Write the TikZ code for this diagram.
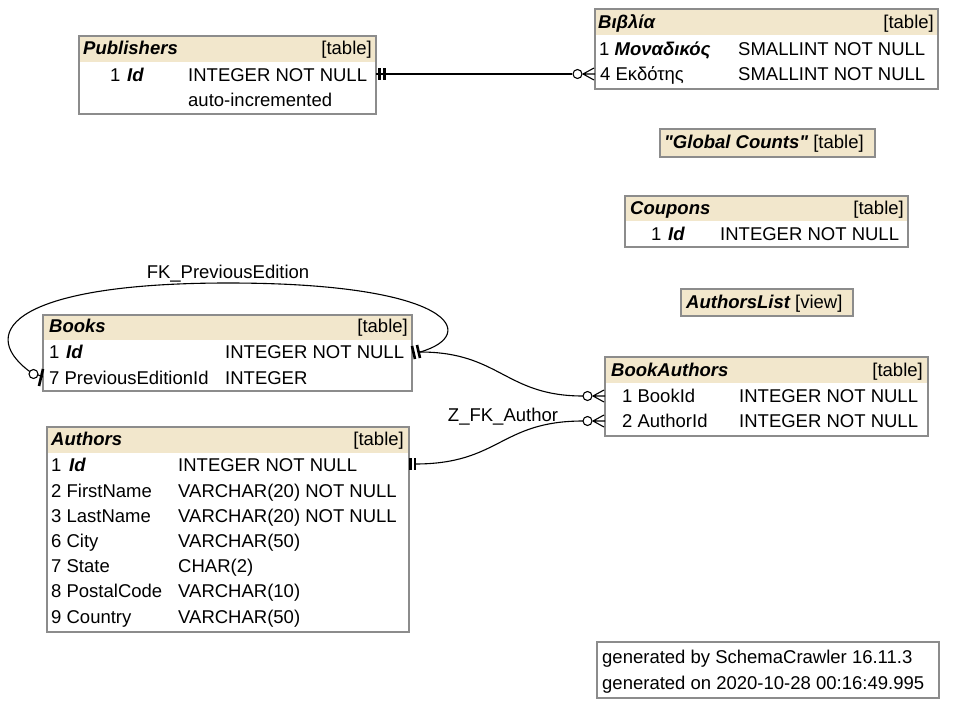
\documentclass[tikz,border=0pt]{standalone}
\usepackage{fontspec}
\setmainfont{Liberation Sans}
\newfontfamily\plainqf{Liberation Sans}
\newcommand\fsz{\fontsize{18.5}{22}\selectfont}
\newcommand\bi{\bfseries\itshape}
\definecolor{hdrcol}{RGB}{242,231,204}
\definecolor{bordcol}{RGB}{140,140,140}
\begin{document}
\begin{tikzpicture}[x=1pt,y=-1pt,
 tbl/.style={draw=bordcol,line width=1.3pt,anchor=north west,inner sep=0,outer sep=0},
 tx/.style={anchor=base west,inner sep=0,font=\fsz},
 txr/.style={anchor=base east,inner sep=0,font=\fsz},
 lbl/.style={anchor=base,inner sep=0,font=\fsz},
 conn/.style={line width=1.1pt,black},
 onebar/.style={line width=2.6pt,black},
 opt/.style={line width=1.1pt,black,fill=white}]
\useasboundingbox[fill=white] (0,0) rectangle (955,707);

% ---------- Publishers
\fill[hdrcol] (79,36) rectangle (376,62);
\node[tbl,minimum width=297pt,minimum height=78pt] (pub) at (79,36) {};
\node[tx] (pubh) at (83,54) {\bi Publishers};
\node[txr] (pubt) at (372,54) {[table]};
\node[tx] (pub1) at (110,81) {1};
\node[tx] (pub1n) at (127,81) {\bi Id};
\node[tx] (pub1t) at (188,81) {INTEGER NOT NULL};
\node[tx] (pub1a) at (188,106) {auto-incremented};

% ---------- Biblia
\fill[hdrcol] (595,9) rectangle (938,35);
\node[tbl,minimum width=343pt,minimum height=80pt] (bib) at (595,9) {};
\node[tx] (bibh) at (598,28) {\bi Βιβλία};
\node[txr] (bibt) at (934,28) {[table]};
\node[tx] (bib1) at (599,55) {1 {\bi Μοναδικός}};
\node[tx] (bib1t) at (738,55) {SMALLINT NOT NULL};
\node[tx] (bib4) at (600,80) {4 Εκδότης};
\node[tx] (bib4t) at (738,80) {SMALLINT NOT NULL};

% ---------- Global Counts
\fill[hdrcol] (660,129) rectangle (875,157);
\node[tbl,minimum width=215pt,minimum height=28pt] (gc) at (660,129) {};
\node[tx] (gch) at (664,148) {{\plainqf\bi "Global Counts"} [table]};

% ---------- Coupons
\fill[hdrcol] (625,196) rectangle (908,221);
\node[tbl,minimum width=283pt,minimum height=51pt] (cou) at (625,196) {};
\node[tx] (couh) at (630,214) {\bi Coupons};
\node[txr] (cout) at (904,214) {[table]};
\node[tx] (cou1) at (651,240) {1};
\node[tx] (cou1n) at (668,240) {\bi Id};
\node[tx] (cou1t) at (720,240) {INTEGER NOT NULL};

% ---------- AuthorsList
\fill[hdrcol] (681,289) rectangle (853,316);
\node[tbl,minimum width=172pt,minimum height=27pt] (al) at (681,289) {};
\node[tx] (alh) at (686,308) {{\bi AuthorsList} [view]};

% ---------- Books
\fill[hdrcol] (43,315) rectangle (412,340);
\node[tbl,minimum width=369pt,minimum height=76pt] (bk) at (43,315) {};
\node[tx] (bkh) at (49,332) {\bi Books};
\node[txr] (bkt) at (408,332) {[table]};
\node[tx] (bk1) at (49,358) {1};
\node[tx] (bk1n) at (66,358) {\bi Id};
\node[tx] (bk1t) at (225,358) {INTEGER NOT NULL};
\node[tx] (bk7) at (49,384) {7 PreviousEditionId};
\node[tx] (bk7t) at (225,384) {INTEGER};

% ---------- BookAuthors
\fill[hdrcol] (605,357) rectangle (928,383);
\node[tbl,minimum width=323pt,minimum height=79pt] (ba) at (605,357) {};
\node[tx] (bah) at (611,376) {\bi BookAuthors};
\node[txr] (bat) at (923,376) {[table]};
\node[tx] (ba1) at (622,402) {1 BookId};
\node[tx] (ba1t) at (739,402) {INTEGER NOT NULL};
\node[tx] (ba2) at (622,427) {2 AuthorId};
\node[tx] (ba2t) at (739,427) {INTEGER NOT NULL};

% ---------- Authors
\fill[hdrcol] (47,427) rectangle (409,453);
\node[tbl,minimum width=362pt,minimum height=205pt] (au) at (47,427) {};
\node[tx] (auh) at (51,445) {\bi Authors};
\node[txr] (aut) at (404,445) {[table]};
\node[tx] (au1) at (51,471) {1};
\node[tx] (au1n) at (69,471) {\bi Id};
\node[tx] (au1t) at (178,471) {INTEGER NOT NULL};
\node[tx] (au2) at (51,497) {2 FirstName};
\node[tx] (au2t) at (178,497) {VARCHAR(20) NOT NULL};
\node[tx] (au3) at (51,522) {3 LastName};
\node[tx] (au3t) at (178,522) {VARCHAR(20) NOT NULL};
\node[tx] (au6) at (51,547) {6 City};
\node[tx] (au6t) at (178,547) {VARCHAR(50)};
\node[tx] (au7) at (51,572) {7 State};
\node[tx] (au7t) at (178,572) {CHAR(2)};
\node[tx] (au8) at (51,597) {8 PostalCode};
\node[tx] (au8t) at (178,597) {VARCHAR(10)};
\node[tx] (au9) at (51,623) {9 Country};
\node[tx] (au9t) at (178,623) {VARCHAR(50)};

% ---------- footer
\node[tbl,minimum width=342pt,minimum height=56pt] (ft) at (597,642) {};
\node[tx] (ft1) at (602,663) {generated by SchemaCrawler 16.11.3};
\node[tx] (ft2) at (602,689) {generated on 2020-10-28 00:16:49.995};

% ---------- connector end points
\coordinate (pubR) at (386,74);
\coordinate (bibL) at (572,74);
\coordinate (bkR) at (420,352);
\coordinate (bkL) at (29,371);
\coordinate (ba1L) at (583,396);
\coordinate (ba2L) at (583,421);
\coordinate (auR) at (415,464);

% Publishers -> Biblia
\draw[conn] (pub.east |- pubR) -- (bibL);
\draw[onebar] (379.5,68) -- (379.5,80) (384.5,68) -- (384.5,80);
\draw[conn] (583,74) -- (594,68) (583,74) -- (595,74) (583,74) -- (594,80);
\draw[opt] (577.5,74) circle (4.5);

% Books self loop
\draw[conn] (bkR) .. controls (480,335) and (455,283) .. (228,283)
  .. controls (20,283) and (-25,330) .. (bkL);
\draw[conn] (bkL) -- (43,377);
\draw[onebar] (412,346) -- (415,359) (417,345) -- (420,358);
\draw[onebar] (39,386) -- (43,369);
\draw[opt] (33.5,374) circle (4.5);
\node[lbl] (lblPE) at (228,278) {FK\_PreviousEdition};

% Books -> BookAuthors
\draw[conn] (bkR) .. controls (500,352) and (505,396) .. (ba1L);
\draw[conn] (593,396) -- (604,390) (593,396) -- (605,396) (593,396) -- (604,402);
\draw[opt] (587.5,396) circle (4.5);

% Authors -> BookAuthors
\draw[conn] (auR) .. controls (500,464) and (500,421) .. (ba2L);
\draw[onebar] (410.5,458) -- (410.5,470) (415,458) -- (415,470);
\draw[conn] (593,421) -- (604,415) (593,421) -- (605,421) (593,421) -- (604,427);
\draw[opt] (587.5,421) circle (4.5);
\node[lbl] (lblAu) at (503,421) {Z\_FK\_Author};
\end{tikzpicture}
\end{document}
